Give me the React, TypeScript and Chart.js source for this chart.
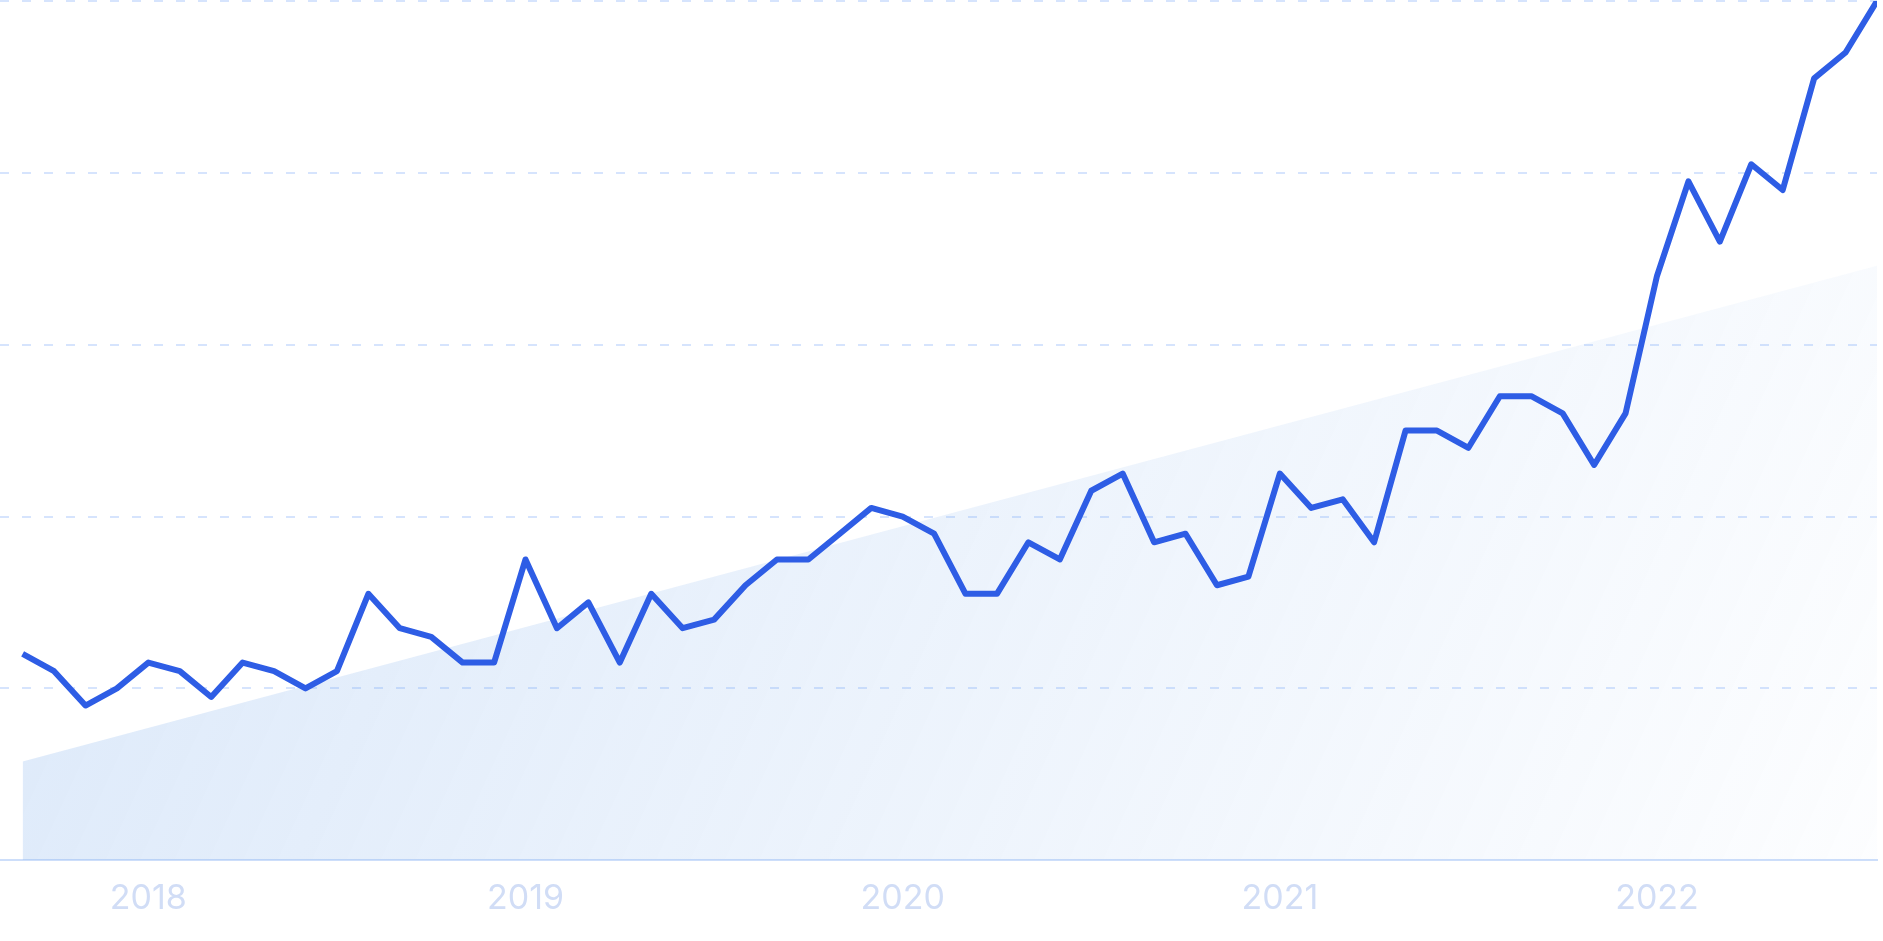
import React, { useEffect, useRef } from "react";
import { Chart, registerables } from "chart.js";

Chart.register(...registerables);

const months = [
  "2017-09", "2017-10", "2017-11", "2017-12",
  "2018-01", "2018-02", "2018-03", "2018-04", "2018-05", "2018-06", "2018-07", "2018-08", "2018-09", "2018-10", "2018-11", "2018-12",
  "2019-01", "2019-02", "2019-03", "2019-04", "2019-05", "2019-06", "2019-07", "2019-08", "2019-09", "2019-10", "2019-11", "2019-12",
  "2020-01", "2020-02", "2020-03", "2020-04", "2020-05", "2020-06", "2020-07", "2020-08", "2020-09", "2020-10", "2020-11", "2020-12",
  "2021-01", "2021-02", "2021-03", "2021-04", "2021-05", "2021-06", "2021-07", "2021-08", "2021-09", "2021-10", "2021-11", "2021-12",
  "2022-01", "2022-02", "2022-03", "2022-04", "2022-05", "2022-06", "2022-07", "2022-08",
];

const interest = [
  24, 22, 18, 20, 23, 22, 19, 23, 22, 20,
  22, 31, 27, 26, 23, 23, 35, 27, 30, 23,
  31, 27, 28, 32, 35, 35, 38, 41, 40, 38,
  31, 31, 37, 35, 43, 45, 37, 38, 32, 33,
  45, 41, 42, 37, 50, 50, 48, 54, 54, 52,
  46, 52, 68, 79, 72, 81, 78, 91, 94, 100,
];

const trendMonths = ["2017-09", "2022-08"];
const trendValues = [11.5, 69.2];

const yearLabels = ["2018", "2019", "2020", "2021", "2022"];
const yTicks = [0, 20, 40, 60, 80, 100];

export default function App() {
  const ref = useRef<HTMLCanvasElement | null>(null);

  useEffect(() => {
    const canvas = ref.current;
    if (!canvas) return;

    const lineData = interest.map((v, i) => ({ x: i, y: v }));
    const trendData = trendMonths.map((m, i) => ({ x: months.indexOf(m), y: trendValues[i] }));
    const yearPos = yearLabels.map((y) => months.indexOf(`${y}-01`));

    const chart = new Chart(canvas, {
      type: "line",
      data: {
        datasets: [
          {
            data: lineData,
            borderColor: "#2e5de5",
            borderWidth: 6,
            pointRadius: 0,
            tension: 0,
            fill: false,
            borderJoinStyle: "round",
            borderCapStyle: "butt",
            order: 0,
          },
          {
            data: trendData,
            borderWidth: 0,
            borderColor: "rgba(0,0,0,0)",
            pointRadius: 0,
            tension: 0,
            fill: "start",
            order: 1,
            backgroundColor: (ctx: any) => {
              const c = ctx.chart;
              const a = c.chartArea;
              if (!a) return "rgba(120,170,235,0.15)";
              const g = c.ctx.createLinearGradient(a.left, a.top, a.right, a.bottom);
              g.addColorStop(0, "rgba(120,170,235,0.28)");
              g.addColorStop(0.5, "rgba(120,170,235,0.15)");
              g.addColorStop(1, "rgba(120,170,235,0.02)");
              return g;
            },
          },
        ],
      },
      options: {
        responsive: false,
        animation: false,
        devicePixelRatio: 1,
        layout: { padding: { top: 1, right: 6, bottom: 4, left: 0 } },
        plugins: { legend: { display: false }, tooltip: { enabled: false } },
        scales: {
          x: {
            type: "linear",
            min: -0.72,
            max: months.length - 1,
            grid: { display: false, drawTicks: false },
            border: { display: true, color: "#cddefa", width: 2 },
            afterBuildTicks: (axis: any) => {
              axis.ticks = yearPos.map((v) => ({ value: v }));
            },
            ticks: {
              autoSkip: false,
              maxRotation: 0,
              padding: 18,
              color: "#d1ddf6",
              font: { family: "Inter", size: 34 },
              callback: (value: any) => {
                const idx = yearPos.indexOf(Number(value));
                return idx >= 0 ? yearLabels[idx] : "";
              },
            },
          },
          y: {
            min: yTicks[0],
            max: yTicks[yTicks.length - 1],
            afterBuildTicks: (axis: any) => {
              axis.ticks = yTicks.map((v) => ({ value: v }));
            },
            ticks: { display: false },
            border: { display: false, dash: [9, 13] },
            grid: {
              drawTicks: false,
              lineWidth: 2,
              color: (ctx: any) => (ctx.tick && ctx.tick.value === 0 ? "rgba(0,0,0,0)" : "#d6e4fd"),
            },
          },
        },
      },
    });

    return () => chart.destroy();
  }, []);

  return (
    <div style={{ position: "fixed", left: 0, top: 0, width: 1883, height: 941, background: "#fff" }}>
      <canvas ref={ref} width={1883} height={941} style={{ width: 1883, height: 941, display: "block" }} />
    </div>
  );
}
